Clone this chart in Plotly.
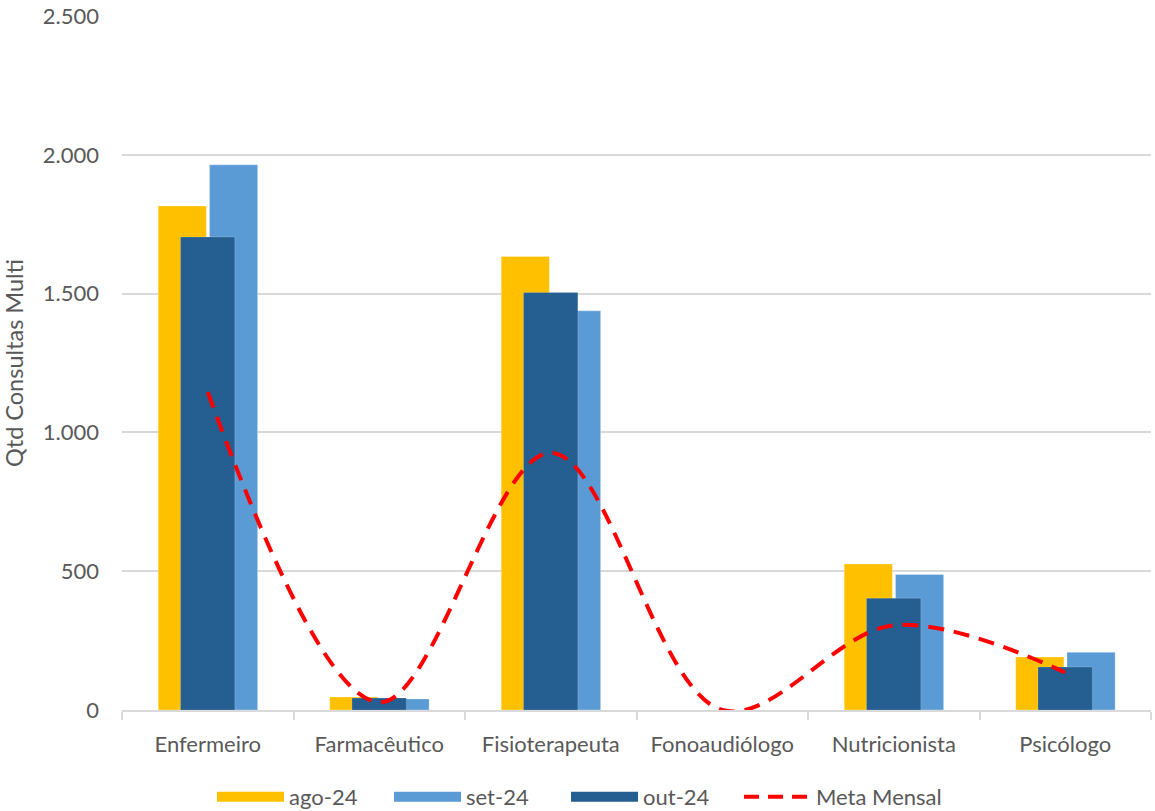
import plotly.graph_objects as go

categorias = ["Enfermeiro", "Farmacêutico", "Fisioterapeuta", "Fonoaudiólogo", "Nutricionista", "Psicólogo"]
ago_24 = [1816, 47, 1634, 0, 526, 191]
set_24 = [1964, 40, 1438, 0, 488, 208]
out_24 = [1704, 43, 1504, 0, 403, 155]
meta_mensal = [1145, 28, 926, 0, 305, 135]
y_ticks = [0, 500, 1000, 1500, 2000, 2500]
y_tick_labels = ["0", "500", "1.000", "1.500", "2.000", "2.500"]

FONT = "Lato"
TXT = "#595959"
C_AGO, C_SET, C_OUT, C_META = "#FFC000", "#5B9BD5", "#255E91", "#FF0000"

fig = go.Figure()
fig.add_trace(go.Bar(name="ago-24", x=categorias, y=ago_24, marker_color=C_AGO,
                     marker_line=dict(width=0.6, color="rgba(255,255,255,0.5)"),
                     offset=-0.289, width=0.281, showlegend=False))
fig.add_trace(go.Bar(name="set-24", x=categorias, y=set_24, marker_color=C_SET,
                     marker_line=dict(width=0.6, color="rgba(255,255,255,0.5)"),
                     offset=0.01, width=0.281, showlegend=False))
fig.add_trace(go.Bar(name="out-24", x=categorias, y=out_24, marker_color=C_OUT,
                     marker_line=dict(width=0.6, color="rgba(255,255,255,0.3)"),
                     offset=-0.159, width=0.317, showlegend=False))
fig.add_trace(go.Scatter(name="Meta Mensal", x=categorias, y=meta_mensal, mode="lines",
                         line=dict(color=C_META, width=4, dash="16px,10px", shape="spline", smoothing=1.0),
                         showlegend=False))

# legend entries (wide rectangular keys like the reference)
for nm, col in [("ago-24", C_AGO), ("set-24", C_SET), ("out-24", C_OUT)]:
    fig.add_trace(go.Scatter(name=nm, x=[None], y=[None], mode="lines",
                             line=dict(color=col, width=13), showlegend=True, legend="legend"))
fig.add_trace(go.Scatter(name="Meta Mensal", x=[None], y=[None], mode="lines",
                         line=dict(color=C_META, width=4, dash="15px,9px"), showlegend=True,
                         legend="legend2"))

fig.update_layout(
    width=1155, height=811,
    barmode="overlay",
    separators=",.",
    paper_bgcolor="white", plot_bgcolor="white",
    font=dict(family=FONT, size=22, color=TXT),
    margin=dict(l=122, r=4, t=16, b=101, autoexpand=False),
    legend=dict(orientation="h", x=0.0875, xanchor="left", y=-0.095, yanchor="top",
                font=dict(size=22, color=TXT), entrywidth=95, entrywidthmode="pixels",
                itemwidth=67, traceorder="normal"),
    legend2=dict(orientation="h", x=0.5996, xanchor="left", y=-0.095, yanchor="top",
                 font=dict(size=22, color=TXT), itemwidth=67),
    xaxis=dict(type="category", showgrid=False, showline=True, linecolor="#D9D9D9", linewidth=1.5,
               ticks="outside", tickson="boundaries", ticklen=8, tickcolor="#D9D9D9", tickwidth=1.5,
               tickfont=dict(size=22, color=TXT), ticklabelstandoff=14, range=[-0.5, 5.5]),
    yaxis=dict(range=[0, 2500], tickvals=y_ticks, ticktext=y_tick_labels, showgrid=True,
               gridcolor="#D9D9D9", gridwidth=1.5, zeroline=False, showline=False,
               tickfont=dict(size=22, color=TXT), ticklabelstandoff=22,
               title=dict(text="Qtd Consultas Multi", font=dict(size=23.5, color=TXT), standoff=12)),
)

fig.write_html("out.html", config={"displayModeBar": False},
               post_script="document.body.style.margin='0';")
